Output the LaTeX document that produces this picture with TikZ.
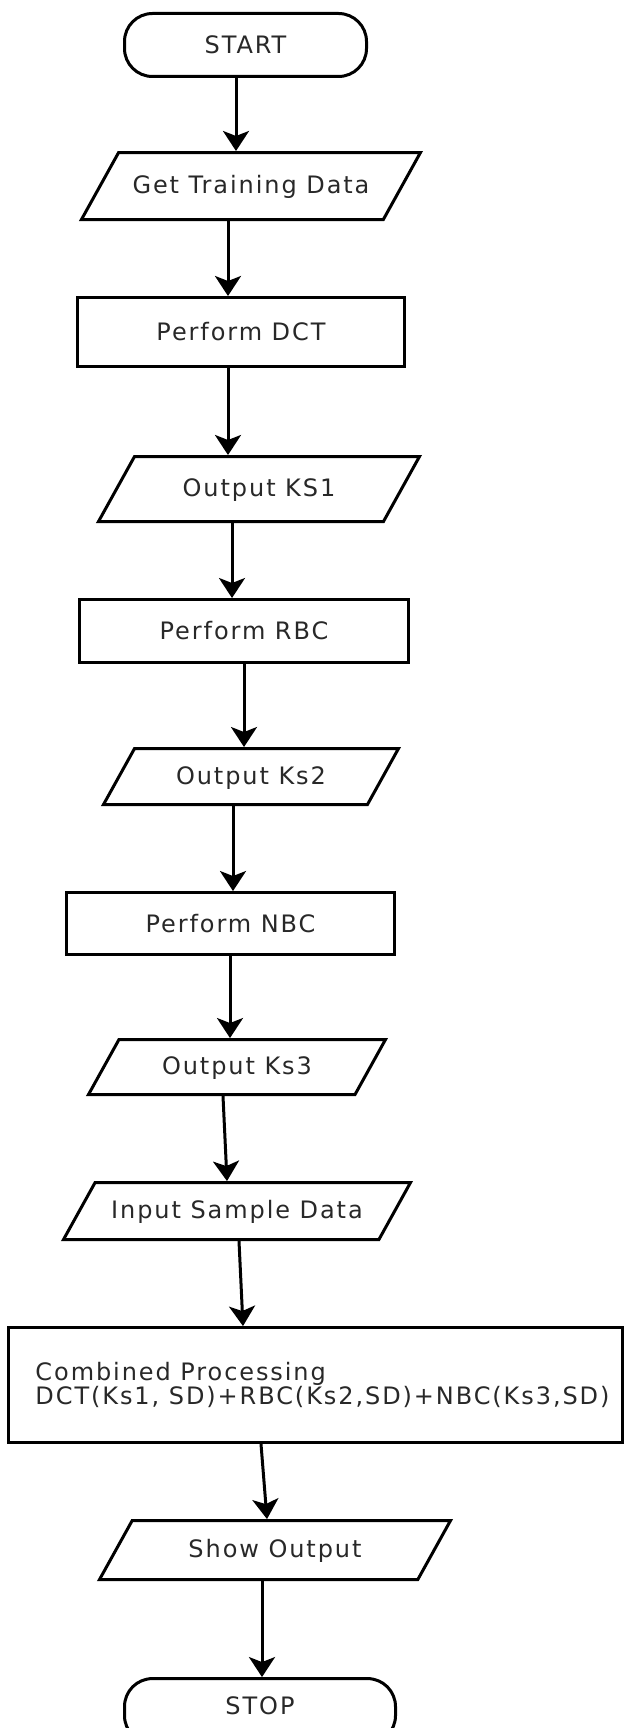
\documentclass[tikz,border=0pt]{standalone}
\usepackage{fontspec}
\setmainfont{DejaVu Sans}[LetterSpace=8]
\usetikzlibrary{shapes.geometric,arrows.meta,positioning}
\definecolor{labelgray}{RGB}{40,40,40}

\begin{document}
\begin{tikzpicture}[
  x=1pt, y=-1pt,
  line width=3pt,
  every node/.append style={
    draw,
    align=center,
    text=labelgray,
    font=\fontsize{24}{24}\selectfont
  },
  term node/.style={rectangle, rounded corners=28pt, minimum width=242pt, minimum height=63pt},
  proc node/.style={rectangle, minimum height=#1},
  io node/.style={trapezium, trapezium left angle=61, trapezium right angle=119,
    trapezium stretches body=true, text height=19pt, text depth=4pt,
    inner ysep={(#1-23pt)/2}, minimum height=#1},
  flow arrow/.style={-{Stealth[length=20pt,width=26pt,inset=5pt]}}
]
\useasboundingbox (0,0) rectangle (625,1728);

\node[term node] (start) at (245.5,45) {START};
\node[io node=67pt, minimum width=339pt, below=73pt of start, xshift=5.5pt] (training) {Get Training Data};
\node[proc node=69pt, minimum width=327pt, below=75pt of training, xshift=-10pt] (dct) {Perform DCT};
\node[io node=65pt, minimum width=321pt, below=87pt of dct, xshift=18pt] (ks1) {Output KS1};
\node[proc node=63pt, minimum width=329pt, below=75pt of ks1, xshift=-15pt] (rbc) {Perform RBC};
\node[io node=56pt, minimum width=295pt, below=83pt of rbc, xshift=7pt] (ks2) {Output Ks2};
\node[proc node=62pt, minimum width=328pt, below=85pt of ks2, xshift=-20.5pt] (nbc) {Perform NBC};
\node[io node=55pt, minimum width=297pt, below=82pt of nbc, xshift=6.5pt] (ks3) {Output Ks3};
\node[io node=57pt, minimum width=347pt, below=85pt of ks3] (sample) {Input Sample Data};
\node[proc node=115pt, minimum width=614pt, align=left, below=85pt of sample, xshift=78.5pt] (combined) {\hspace*{14pt}Combined Processing\\\hspace*{14pt}DCT(Ks1, SD)+RBC(Ks2,SD)+NBC(Ks3,SD)};
\node[io node=59pt, minimum width=351pt, below=75pt of combined, xshift=-40.5pt] (show) {Show Output};
\node[term node, minimum width=271pt, minimum height=65pt, text depth=12pt, below=96pt of show, xshift=-15pt] (stop) {STOP};

\draw[flow arrow] ([xshift=-9.5pt]start.south) -- ([xshift=-15pt]training.north);
\draw[flow arrow] ([xshift=-23pt]training.south) -- ([xshift=-13pt]dct.north);
\draw[flow arrow] ([xshift=-13pt]dct.south) -- ([xshift=-31pt]ks1.north);
\draw[flow arrow] ([xshift=-27pt]ks1.south) -- ([xshift=-12pt]rbc.north);
\draw[flow arrow] (rbc.south) -- ([xshift=-7pt]ks2.north);
\draw[flow arrow] ([xshift=-18pt]ks2.south) -- ([xshift=2.5pt]nbc.north);
\draw[flow arrow] ([xshift=-0.5pt]nbc.south) -- ([xshift=-7pt]ks3.north);
\draw[flow arrow] ([xshift=-14pt]ks3.south) -- ([xshift=-10pt]sample.north);
\draw[flow arrow] ([xshift=2pt]sample.south) -- ([xshift=-72.5pt]combined.north);
\draw[flow arrow] ([xshift=-54.5pt]combined.south) -- ([xshift=-8pt]show.north);
\draw[flow arrow] ([xshift=-13pt]show.south) -- ([xshift=2pt]stop.north);
\end{tikzpicture}
\end{document}
